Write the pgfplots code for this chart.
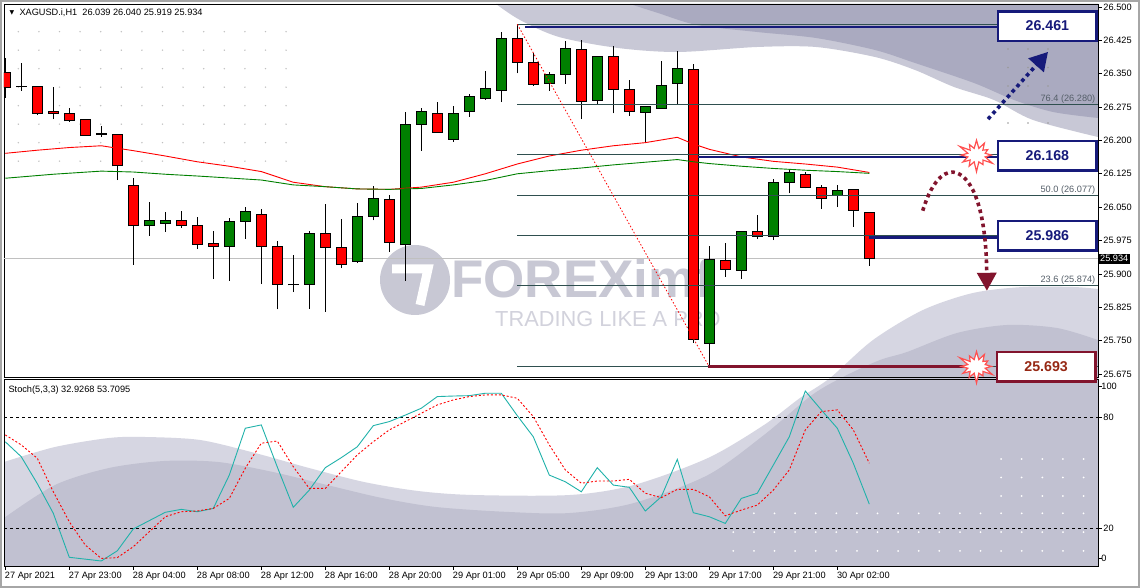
\documentclass[border=0pt]{standalone}
\usepackage{pgfplots}
\pgfplotsset{compat=1.18}
\usepackage{pgfplotstable}
\usepackage{fontspec}
\setmainfont{Liberation Sans}
\newfontfamily\dejavu{DejaVu Sans}
\usetikzlibrary{shapes.symbols, arrows.meta}

\definecolor{navy}{RGB}{22,26,122}
\definecolor{dred}{RGB}{130,20,45}
\definecolor{dredtxt}{RGB}{150,40,20}
\definecolor{cgreen}{RGB}{0,128,0}
\definecolor{cred}{RGB}{255,0,0}
\definecolor{fib}{RGB}{47,79,79}
\definecolor{fibtxt}{RGB}{85,95,105}
\definecolor{bglight}{RGB}{214,214,226}
\definecolor{bgdark}{RGB}{193,193,209}
\definecolor{toplight}{RGB}{200,200,214}
\definecolor{topdark}{RGB}{170,170,192}
\definecolor{wm}{RGB}{200,200,212}
\definecolor{wmb}{RGB}{210,210,220}
\definecolor{stk}{RGB}{32,178,170}
\definecolor{starred}{RGB}{255,80,80}
\definecolor{curline}{RGB}{192,192,192}

\newcommand{\tfont}{\fontsize{9.2}{11}\selectfont}

\pgfplotstableread{
i o h l c
0 26.353 26.385 26.296 26.319
2 26.321 26.322 26.257 26.261
3 26.266 26.319 26.248 26.261
4 26.261 26.272 26.242 26.244
5 26.248 26.249 26.211 26.211
7 26.214 26.214 26.111 26.143
8 26.098 26.115 25.920 26.008
11 26.019 26.041 26.004 26.008
12 26.009 26.027 25.957 25.966
13 25.969 25.996 25.888 25.962
16 26.034 26.046 25.877 25.962
17 25.962 25.974 25.820 25.877
20 25.991 26.057 25.815 25.960
21 25.960 26.023 25.913 25.921
24 26.068 26.077 25.949 25.971
27 26.261 26.286 26.218 26.218
32 26.430 26.461 26.351 26.376
33 26.376 26.396 26.323 26.326
36 26.405 26.426 26.248 26.288
38 26.389 26.412 26.261 26.315
39 26.315 26.336 26.256 26.265
43 26.360 26.371 25.745 25.753
45 25.931 25.969 25.894 25.910
47 25.996 26.032 25.978 25.985
50 26.124 26.128 26.092 26.095
51 26.095 26.100 26.046 26.070
53 26.090 26.090 26.006 26.043
54 26.039 26.040 25.918 25.934
}\redtab

\pgfplotstableread{
i o h l c
9 26.008 26.062 25.986 26.019
10 26.014 26.039 25.995 26.019
14 25.962 26.025 25.885 26.018
15 26.018 26.050 25.979 26.041
19 25.877 25.996 25.822 25.991
22 25.928 26.059 25.924 26.029
23 26.029 26.098 26.020 26.070
25 25.966 26.263 25.885 26.236
26 26.236 26.272 26.177 26.266
28 26.203 26.277 26.197 26.261
29 26.265 26.304 26.253 26.299
30 26.294 26.356 26.291 26.317
31 26.313 26.443 26.286 26.430
34 26.328 26.354 26.312 26.349
35 26.349 26.424 26.327 26.407
37 26.290 26.389 26.282 26.389
40 26.263 26.277 26.195 26.277
41 26.272 26.379 26.272 26.324
42 26.328 26.401 26.281 26.362
44 25.744 25.962 25.691 25.933
46 25.908 25.996 25.889 25.996
48 25.985 26.113 25.976 26.106
49 26.106 26.134 26.081 26.128
52 26.077 26.100 26.050 26.088
}\greentab

\pgfplotstableread{
i o h l c
1 26.321 26.373 26.312 26.321
6 26.214 26.232 26.208 26.214
18 25.876 25.942 25.859 25.876
}\dojitab

\pgfplotsset{
  ebar/.style={draw=none, mark=none, forget plot,
    error bars/y dir=plus, error bars/y explicit, error bars/error mark=none,
    error bars/error bar style={#1}},
}

\begin{document}
\begin{tikzpicture}
\path[use as bounding box] (0,0) rectangle (1140pt,588pt);
\fill[white] (0,0) rectangle (1140pt,588pt);

% ---------- background decoration (pixel coordinates) ----------
\begin{scope}[x=1pt, y=-1pt, shift={(0pt,588pt)}]
  \fill[toplight] plot[smooth] coordinates {(496,4) (520,20) (559,37) (618,48) (678,52) (757,47) (816,47) (875,57) (915,70) (954,87) (994,100) (1033,120) (1098,137)} -- (1098,4) -- cycle;
  \fill[topdark] plot[smooth] coordinates {(630,4) (658,13) (697,25) (757,32) (816,38) (875,50) (915,63) (974,83) (1014,100) (1053,112) (1098,118)} -- (1098,4) -- cycle;
  \fill[bglight] plot[smooth] coordinates {(4,462) (55,447) (109,438) (145,437) (200,440) (255,453) (309,468) (364,482) (418,491) (473,495) (570,495) (634,485) (708,458) (764,425) (800,398) (830,378) (873,340) (923,310) (973,293) (1023,287) (1073,287) (1098,289)} -- (1098,566) -- (4,566) -- cycle;
  \fill[bgdark] plot[smooth] coordinates {(4,518) (55,485) (109,468) (164,461) (218,462) (273,472) (327,485) (382,498) (436,507) (509,512) (570,513) (634,503) (708,475) (764,435) (812,395) (845,376) (880,360) (907,352) (957,333) (1007,325) (1057,328) (1098,340)} -- (1098,566) -- (4,566) -- cycle;
  \foreach \xx in {0,...,13} \foreach \yy in {0,...,7}
    \fill[black!25] ({18.3+20.6*\xx},{31.7+18.5*\yy}) circle (0.8);
  \foreach \xx in {0,...,2} \foreach \yy in {0,...,4}
    \fill[black!40] ({1008+20*\xx},{49+18.5*\yy}) circle (0.8);
  \foreach \xx in {0,...,17} \foreach \yy in {0,...,2}
    \fill[white] ({733.3+20.6*\xx},{513.3+18.8*\yy}) circle (1);
  \foreach \xx in {13,...,17} \foreach \yy in {0,...,2}
    \fill[white] ({733.3+20.6*\xx},{459+18.5*\yy}) circle (1);
  \fill[wm] (415,280) circle (35);
  \draw[white, line width=9, line join=miter] (392,269) -- (428,269) -- (420,305);
  \node[anchor=base west, inner sep=0, text=wm, font=\bfseries\fontsize{53}{53}\selectfont] at (451,298) {FOREXimf};
  \node[anchor=base west, inner sep=0, text=wmb, font=\fontsize{21.8}{22}\selectfont] at (495,327) {TRADING LIKE A PRO};
  \draw[black!35, line width=2] (1,1) rectangle (1139,587);
\end{scope}

% ---------- stochastic panel ----------
\begin{axis}[
  at={(4pt,22pt)}, anchor=south west, scale only axis,
  width=1094pt, height=187pt,
  xmin=-0.08, xmax=68.29, ymin=-0.5, ymax=100.5,
  axis line style={black, line width=0.8pt},
  xtick={0,4,...,52},
  xticklabels={27 Apr 2021, 27 Apr 23:00, 28 Apr 04:00, 28 Apr 08:00, 28 Apr 12:00, 28 Apr 16:00, 28 Apr 20:00, 29 Apr 01:00, 29 Apr 05:00, 29 Apr 09:00, 29 Apr 13:00, 29 Apr 17:00, 29 Apr 21:00, 30 Apr 02:00},
  xtick pos=bottom,
  xticklabel style={anchor=north west, font=\tfont, inner xsep=0pt, xshift=-0.5pt, yshift=1pt},
  ytick={20,80},
  extra y ticks={3.8,96.8},
  extra y tick labels={0,100},
  ytick pos=right, yticklabel pos=right,
  yticklabel style={font=\tfont, xshift=-2pt},
  extra y tick style={yticklabel pos=right, ytick pos=right, yticklabel style={font=\tfont, xshift=-2pt}},
  /pgf/number format/assume math mode=true,
  tick align=outside, major tick length=4pt,
  tick style={black, line width=0.6pt},
  clip=false,
]
\addplot[black, line width=0.7pt, dash pattern=on 3pt off 3pt] coordinates {(-0.08,80) (68.29,80)};
\addplot[black, line width=0.7pt, dash pattern=on 3pt off 3pt] coordinates {(-0.08,20) (68.29,20)};
\addplot[stk, line width=0.9pt, mark=none] coordinates {
(0,66.6)(1,58.5)(2,44)(3,28)(4,4.2)(5,3.2)(6,2.2)(7,7.7)(8,19.5)(9,24)(10,28.5)(11,30.1)(12,28.8)(13,30.6)(14,48.6)(15,73.9)(16,75.7)(17,53)(18,31.2)(19,40.5)(20,52.6)(21,58)(22,63.9)(23,75.3)(24,77.5)(25,81)(26,84.7)(27,91)(28,91.3)(29,91.5)(30,92.8)(31,92.8)(32,80.7)(33,69.3)(34,48.6)(35,45)(36,39.6)(37,52.6)(38,43.2)(39,42)(40,29.2)(41,36.9)(42,57.1)(43,28.3)(44,26.1)(45,22.5)(46,36)(47,38.8)(48,54)(49,69.3)(50,94)(51,83.8)(52,73.9)(53,55)(54,32.9)};
\addplot[cred, line width=0.9pt, mark=none, dash pattern=on 2pt off 2pt] coordinates {
(0,70.3)(1,64.9)(2,57.7)(3,39.6)(4,23.4)(5,10.8)(6,3.6)(7,4)(8,9.9)(9,18)(10,26.1)(11,28.8)(12,29.2)(13,30.6)(14,36)(15,52.3)(16,65.8)(17,67)(18,53.1)(19,41.4)(20,41.4)(21,50.4)(22,59.5)(23,66.6)(24,73)(25,77.5)(26,82)(27,86.5)(28,89.2)(29,91)(30,91.9)(31,91.9)(32,90.1)(33,80.2)(34,64.9)(35,51.4)(36,44.2)(37,45.4)(38,45.4)(39,46.3)(40,38.8)(41,36.4)(42,40.9)(43,40.9)(44,36.9)(45,26.6)(46,29.7)(47,32.4)(48,40.5)(49,51.4)(50,73)(51,82.9)(52,83.8)(53,73)(54,55)};
\node[anchor=west, font=\tfont, inner sep=0pt] at (rel axis cs:0.004,0.94) {Stoch(5,3,3) 32.9268 53.7095};
\end{axis}

% ---------- main price panel ----------
\begin{axis}[
  at={(4pt,211pt)}, anchor=south west, scale only axis,
  width=1094pt, height=373pt,
  xmin=-0.08, xmax=68.29, ymin=25.6682, ymax=26.5067,
  axis line style={black, line width=0.8pt},
  xtick=\empty,
  ytick={25.675,25.750,25.825,25.900,25.975,26.050,26.125,26.200,26.275,26.350,26.425,26.500},
  ytick pos=right, yticklabel pos=right,
  yticklabel style={font=\tfont, xshift=-2pt, /pgf/number format/.cd, fixed, fixed zerofill, precision=3},
  /pgf/number format/assume math mode=true,
  tick align=outside, major tick length=4pt,
  tick style={black, line width=0.6pt},
  clip=true, clip mode=individual,
]
\addplot[curline, line width=0.8pt] coordinates {(-0.08,25.934) (68.29,25.934)};
% wicks
\addplot[ebar={draw=black, line width=1pt}] table[x=i, y=l, y error expr=\thisrow{h}-\thisrow{l}] {\redtab};
\addplot[ebar={draw=black, line width=1pt}] table[x=i, y=l, y error expr=\thisrow{h}-\thisrow{l}] {\greentab};
\addplot[ebar={draw=black, line width=1pt}] table[x=i, y=l, y error expr=\thisrow{h}-\thisrow{l}] {\dojitab};
% bodies outline
\addplot[ebar={draw=black, line width=10.5pt}] table[x=i, y expr={min(\thisrow{o},\thisrow{c})-0.0011}, y error expr={abs(\thisrow{c}-\thisrow{o})+0.0022}] {\redtab};
\addplot[ebar={draw=black, line width=10.5pt}] table[x=i, y expr={min(\thisrow{o},\thisrow{c})-0.0011}, y error expr={abs(\thisrow{c}-\thisrow{o})+0.0022}] {\greentab};
\addplot[ebar={draw=black, line width=10.5pt}] table[x=i, y expr={\thisrow{c}-0.002}, y error expr={0.004}] {\dojitab};
% bodies fill
\addplot[ebar={draw=cred, line width=8.5pt}] table[x=i, y expr={min(\thisrow{o},\thisrow{c})+0.0011}, y error expr={abs(\thisrow{c}-\thisrow{o})-0.0022}] {\redtab};
\addplot[ebar={draw=cgreen, line width=8.5pt}] table[x=i, y expr={min(\thisrow{o},\thisrow{c})+0.0011}, y error expr={abs(\thisrow{c}-\thisrow{o})-0.0022}] {\greentab};
% moving averages
\addplot[cred, line width=0.9pt, mark=none] coordinates {
(0,26.171)(2,26.178)(4,26.184)(6,26.188)(8,26.177)(10,26.165)(12,26.152)(14,26.142)(16,26.130)(18,26.106)(20,26.096)(22,26.091)(24,26.090)(26,26.095)(28,26.106)(30,26.125)(32,26.147)(34,26.165)(36,26.178)(38,26.188)(40,26.195)(42,26.207)(43,26.192)(44,26.180)(46,26.163)(48,26.153)(50,26.147)(52,26.140)(54,26.128)};
\addplot[cgreen, line width=0.9pt, mark=none] coordinates {
(0,26.115)(3,26.124)(6,26.131)(8,26.129)(10,26.124)(12,26.120)(16,26.111)(18,26.100)(20,26.096)(22,26.091)(24,26.090)(26,26.092)(28,26.100)(30,26.110)(32,26.125)(34,26.132)(36,26.138)(38,26.145)(40,26.151)(42,26.157)(43,26.152)(44,26.148)(46,26.142)(48,26.137)(50,26.133)(52,26.130)(54,26.126)};
% fibonacci levels
\addplot[fib, line width=0.8pt] coordinates {(32,26.461) (68.29,26.461)};
\addplot[fib, line width=0.8pt] coordinates {(32,26.280) (68.29,26.280)};
\addplot[fib, line width=0.8pt] coordinates {(32,26.168) (68.29,26.168)};
\addplot[fib, line width=0.8pt] coordinates {(32,26.077) (68.29,26.077)};
\addplot[fib, line width=1.4pt] coordinates {(32,25.986) (68.29,25.986)};
\addplot[fib, line width=0.8pt] coordinates {(32,25.874) (68.29,25.874)};
\addplot[fib, line width=0.8pt] coordinates {(32,25.692) (68.29,25.692)};
\addplot[cred, line width=0.8pt, dash pattern=on 1.5pt off 2pt] coordinates {(32,26.461) (44,25.691)};
% level lines
\addplot[navy, line width=2.6pt] coordinates {(32.5,26.455) (62,26.455)};
\addplot[navy, line width=2.6pt] coordinates {(43.3,26.163) (62,26.163)};
\addplot[navy, line width=2.6pt] coordinates {(54.0,25.982) (62,25.982)};
\addplot[dred, line width=2.8pt] coordinates {(43.9,25.691) (61,25.691)};
% fib labels
\node[anchor=south east, inner sep=1pt, text=fibtxt, font=\tfont] at (axis cs:68.2,26.280) {76.4 (26.280)};
\node[anchor=south east, inner sep=1pt, text=fibtxt, font=\tfont] at (axis cs:68.2,26.077) {50.0 (26.077)};
\node[anchor=south east, inner sep=1pt, text=fibtxt, font=\tfont] at (axis cs:68.2,25.874) {23.6 (25.874)};
% arrows
\draw[navy, line width=3.6pt, dash pattern=on 3.6pt off 3.6pt, -{Triangle[length=18pt,width=20pt]}] (axis cs:61.42,26.248) -- (axis cs:65.17,26.399);
\draw[dred, line width=3.6pt, dash pattern=on 3.6pt off 3.6pt, -{Triangle[length=18pt,width=19pt]}] (axis cs:57.34,26.042) .. controls (axis cs:58.0,26.12) and (axis cs:58.9,26.135) .. (axis cs:59.46,26.127) .. controls (axis cs:60.4,26.115) and (axis cs:61.3,26.05) .. (axis cs:61.35,25.862);
% starbursts
\node[starburst, starburst points=12, starburst point height=11pt, draw=starred, fill=white, line width=1.2pt, minimum width=40pt, minimum height=36pt] at (axis cs:60.7,26.167) {};
\node[starburst, starburst points=12, starburst point height=11pt, draw=starred, fill=white, line width=1.2pt, minimum width=40pt, minimum height=36pt] at (axis cs:60.7,25.692) {};
% level boxes
\node[draw=navy, line width=2.5pt, fill=white, minimum width=98.5pt, minimum height=29.5pt, inner sep=0pt, text=navy, font=\bfseries\fontsize{14.2}{15}\selectfont] at (axis cs:65.13,26.457) {26.461};
\node[draw=navy, line width=2.5pt, fill=white, minimum width=98.5pt, minimum height=29.5pt, inner sep=0pt, text=navy, font=\bfseries\fontsize{14.2}{15}\selectfont] at (axis cs:65.13,26.165) {26.168};
\node[draw=navy, line width=2.5pt, fill=white, minimum width=98.5pt, minimum height=29.5pt, inner sep=0pt, text=navy, font=\bfseries\fontsize{14.2}{15}\selectfont] at (axis cs:65.13,25.986) {25.986};
\node[draw=dred, line width=2.5pt, fill=white, minimum width=98.5pt, minimum height=29.5pt, inner sep=0pt, text=dredtxt, font=\bfseries\fontsize{14.2}{15}\selectfont] at (axis cs:65.05,25.6913) {25.693};
\node[anchor=west, fill=black, text=white, inner xsep=2pt, inner ysep=1.5pt, font=\tfont] at (axis cs:68.29,25.934) {25.934};
% header
\node[anchor=west, inner sep=0pt, font=\tfont] at (rel axis cs:0.014,0.977) {XAGUSD.i,H1\ \ 26.039 26.040 25.919 25.934};
\node[anchor=west, inner sep=0pt, font=\dejavu\fontsize{6}{6}\selectfont] at (rel axis cs:0.005,0.977) {▼};
\end{axis}
\end{tikzpicture}
\end{document}
